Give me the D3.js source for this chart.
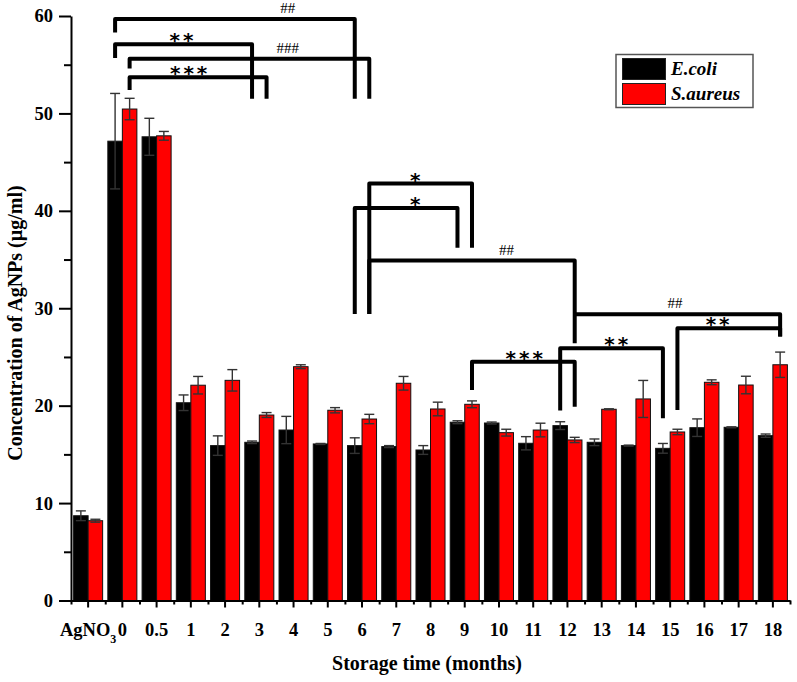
<!doctype html>
<html>
<head>
<meta charset="utf-8">
<script src="https://cdnjs.cloudflare.com/ajax/libs/d3/7.8.5/d3.min.js"></script>
<style>
  body { margin: 0; background: #fff; }
  svg { font-family: "Liberation Serif", "Times New Roman", serif; }
</style>
</head>
<body>
<svg width="797" height="682"></svg>
<script>
  // storage time categories
  var cats = ["AgNO3", "0", "0.5", "1", "2", "3", "4", "5", "6", "7", "8", "9",
              "10", "11", "12", "13", "14", "15", "16", "17", "18"];
  var seriesNames = ["E.coli", "S.aureus"];
  var ecoli      = [8.7, 47.15, 47.6, 20.3, 15.9, 16.24, 17.5, 16.07, 15.9, 15.8, 15.45,
                    18.3, 18.22, 16.14, 17.95, 16.24, 15.9, 15.62, 17.74, 17.78, 16.92];
  var ecoliErr   = [0.5, 4.9, 1.9, 0.8, 1.0, 0.13, 1.4, 0.05, 0.8, 0.1, 0.45,
                    0.15, 0.1, 0.68, 0.4, 0.34, 0.05, 0.5, 0.9, 0.05, 0.17];
  var saureus    = [8.19, 50.45, 47.7, 22.1, 22.6, 19.04, 24.0, 19.53, 18.63, 22.3, 19.66,
                    20.14, 17.23, 17.5, 16.48, 19.63, 20.69, 17.3, 22.4, 22.12, 24.2];
  var saureusErr = [0.15, 1.1, 0.45, 0.9, 1.1, 0.25, 0.2, 0.27, 0.48, 0.7, 0.7,
                    0.35, 0.35, 0.7, 0.27, 0.05, 1.9, 0.28, 0.25, 0.9, 1.3];
  var yTicks = [0, 10, 20, 30, 40, 50, 60];

  // significance brackets: ends (category, series), level, leg ends, label, label spot (category index)
  var brackets = [
    {a: ["0", "E.coli"],   b: ["6", "E.coli"],    y: 59.7,  ya: 58.3,  yb: 51.5, t: "##",  tx: 5.83},
    {a: ["0", "E.coli"],   b: ["3", "E.coli"],    y: 57.1,  ya: 55.7,  yb: 51.5, t: "**",  tx: 2.77},
    {a: ["0", "S.aureus"], b: ["6", "S.aureus"],  y: 55.6,  ya: 54.6,  yb: 51.5, t: "###", tx: 5.83},
    {a: ["0", "S.aureus"], b: ["3", "S.aureus"],  y: 53.7,  ya: 52.4,  yb: 51.5, t: "***", tx: 2.98},
    {a: ["6", "S.aureus"], b: ["9", "S.aureus"],  y: 42.8,  ya: 29.4,  yb: 36.2, t: "*",   tx: 9.6},
    {a: ["6", "E.coli"],   b: ["9", "E.coli"],    y: 40.3,  ya: 29.4,  yb: 36.2, t: "*",   tx: 9.6},
    {a: ["6", "S.aureus"], b: ["12", "S.aureus"], y: 34.9,  ya: 29.4,  yb: 26.4, t: "##",  tx: 12.22},
    {a: ["12", "S.aureus"], b: ["18", "S.aureus"], y: 29.38, ya: 29.38, yb: 27.1, t: "##", tx: 17.14},
    {a: ["15", "S.aureus"], b: ["18", "S.aureus"], y: 27.95, ya: 19.56, yb: 27.1, t: "**", tx: 18.43},
    {a: ["12", "E.coli"],  b: ["15", "E.coli"],   y: 25.9,  ya: 19.5,  yb: 18.7, t: "**",  tx: 15.47},
    {a: ["9", "S.aureus"], b: ["12", "S.aureus"], y: 24.52, ya: 21.6,  yb: 19.9, t: "***", tx: 12.78}
  ];

  var colors = {"E.coli": "#000000", "S.aureus": "#ff0000"};

  var rows = cats.map((c, i) => ({
    cat: c,
    vals: [
      {s: "E.coli", v: ecoli[i], e: ecoliErr[i]},
      {s: "S.aureus", v: saureus[i], e: saureusErr[i]}
    ]
  }));

  var svg = d3.select("svg");
  var x = d3.scaleBand().domain(cats).range([71, 790]);
  var x1 = d3.scaleBand().domain(seriesNames).range([2.6, x.bandwidth() - 2.6]);
  var y = d3.scaleLinear().domain([0, 60]).range([600.5, 16]);

  function cx(cat, s) { return x(cat) + x1(s) + x1.bandwidth() / 2; }

  // bars
  var g = svg.append("g").selectAll("g").data(rows).enter().append("g")
    .attr("transform", d => "translate(" + x(d.cat) + ",0)");

  g.selectAll("rect").data(d => d.vals).enter().append("rect")
    .attr("x", d => x1(d.s))
    .attr("width", x1.bandwidth())
    .attr("y", d => y(d.v))
    .attr("height", d => y(0) - y(d.v))
    .style("fill", d => colors[d.s])
    .style("stroke", "#111")
    .style("stroke-width", "1px");

  // error bars
  var eb = g.selectAll("g.err").data(d => d.vals).enter().append("g").attr("class", "err")
    .style("stroke", "#333").style("stroke-width", "1.4px");
  eb.append("line")
    .attr("x1", d => x1(d.s) + x1.bandwidth() / 2).attr("x2", d => x1(d.s) + x1.bandwidth() / 2)
    .attr("y1", d => y(d.v - d.e)).attr("y2", d => y(d.v + d.e));
  eb.append("line")
    .attr("x1", d => x1(d.s) + x1.bandwidth() / 2 - 5).attr("x2", d => x1(d.s) + x1.bandwidth() / 2 + 5)
    .attr("y1", d => y(d.v + d.e)).attr("y2", d => y(d.v + d.e));
  eb.append("line")
    .attr("x1", d => x1(d.s) + x1.bandwidth() / 2 - 5).attr("x2", d => x1(d.s) + x1.bandwidth() / 2 + 5)
    .attr("y1", d => y(d.v - d.e)).attr("y2", d => y(d.v - d.e));

  // axes
  var yAxis = svg.append("g").attr("transform", "translate(71,0)")
    .call(d3.axisLeft(y).tickValues(yTicks).tickSize(12).tickPadding(6).tickSizeOuter(0));
  var yMinor = svg.append("g").attr("transform", "translate(71,0)")
    .call(d3.axisLeft(y).tickValues(yTicks.slice(0, -1).map(v => v + 5)).tickSize(7).tickFormat(""));
  yMinor.select(".domain").remove();

  var xAxis = svg.append("g").attr("transform", "translate(0," + y(0) + ")")
    .call(d3.axisBottom(x).tickSize(7).tickPadding(15).tickSizeOuter(0));
  var xMinor = svg.append("g").attr("transform", "translate(0," + y(0) + ")")
    .call(d3.axisBottom(d3.scaleLinear().domain([0, cats.length]).range([71, 790]))
      .tickValues(d3.range(0, cats.length + 1)).tickSize(4).tickFormat(""));
  xMinor.select(".domain").remove();

  svg.selectAll(".domain").style("stroke-width", "2px").style("stroke", "#000");
  svg.selectAll(".tick line").style("stroke-width", "2px").style("stroke", "#000");
  svg.selectAll(".tick text")
    .style("font-family", "'Liberation Serif', 'Times New Roman', serif")
    .style("font-size", "18.5px").style("font-weight", "bold").style("fill", "#000");

  xAxis.selectAll(".tick text").filter(d => d === "AgNO3").each(function() {
    var t = d3.select(this).text("AgNO");
    t.append("tspan").attr("dy", "7").style("font-size", "12px").text("3");
  });

  // brackets
  var bg = svg.append("g");
  brackets.forEach(b => {
    var xa = cx(b.a[0], b.a[1]), xb = cx(b.b[0], b.b[1]);
    bg.append("path")
      .attr("d", "M" + xa + "," + y(b.ya) + "V" + y(b.y) + "H" + xb + "V" + y(b.yb))
      .style("fill", "none").style("stroke", "#000").style("stroke-width", "4px")
      .style("stroke-linejoin", "round");
    var lx = x(cats[0]) + x.bandwidth() / 2 + b.tx * x.step();
    if (b.t[0] === "*") {
      bg.append("text").attr("x", lx).attr("y", y(b.y) + 3)
        .attr("text-anchor", "middle")
        .style("font-family", "'DejaVu Sans', sans-serif").style("font-size", "20px")
        .style("font-weight", "bold").style("letter-spacing", "3px")
        .text(b.t);
    } else {
      bg.append("text").attr("x", lx).attr("y", y(b.y) - 6)
        .attr("text-anchor", "middle")
        .style("font-size", "15px")
        .text(b.t);
    }
  });

  // legend
  var lg = svg.append("g");
  lg.append("rect").attr("x", 616).attr("y", 54.5).attr("width", 137).attr("height", 53)
    .style("fill", "#fff").style("stroke", "#555").style("stroke-width", "1.5px");
  seriesNames.forEach((s, i) => {
    lg.append("rect").attr("x", 622.5).attr("y", 58.5 + i * 25).attr("width", 43).attr("height", 21)
      .style("fill", colors[s]).style("stroke", "#222").style("stroke-width", "1px");
    lg.append("text").attr("x", 671).attr("y", 75 + i * 25)
      .style("font-size", "19px").style("font-weight", "bold").style("font-style", "italic")
      .text(s);
  });

  // titles
  svg.append("text").attr("x", 427).attr("y", 670).attr("text-anchor", "middle")
    .style("font-size", "20px").style("font-weight", "bold")
    .text("Storage time (months)");
  svg.append("text").attr("transform", "translate(22,323) rotate(-90)").attr("text-anchor", "middle")
    .style("font-size", "20px").style("font-weight", "bold")
    .text("Concentration of AgNPs (µg/ml)");
</script>
</body>
</html>
